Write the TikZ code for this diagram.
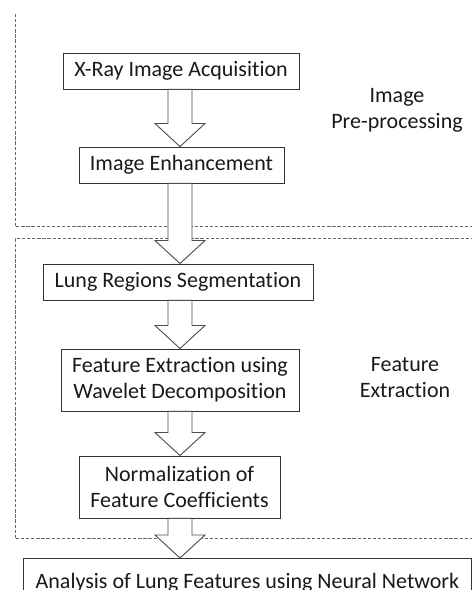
\documentclass[tikz,border=0pt]{standalone}
\usepackage{fontspec}
\setmainfont[Ligatures=NoCommon]{Carlito}
\usetikzlibrary{calc}
\tikzset{
  procbox/.style={draw=black!80, line width=0.9pt, fill=white, align=center, inner xsep=0pt, inner ysep=0pt,
    minimum height=36pt, font=\fontsize{22}{26}\selectfont, text=black!90},
  bigarrow/.style={draw=black!70, line width=0.9pt, fill=white, line join=miter},
  region/.style={draw=black!60, line width=1pt, dash pattern=on 3.3pt off 1.8pt},
  lbl/.style={align=center, font=\fontsize{22}{26}\selectfont, text=black!90}
}
\newcommand{\blockarrow}[2]{%
  \draw[bigarrow] let \p1=(#1.south), \p2=(#2.north) in
    (180pt,\y1) -- (180pt-12pt,\y1) -- (180pt-12pt,\y2+23pt) -- (180pt-25pt,\y2+23pt)
    -- (180pt,\y2) -- (180pt+25pt,\y2+23pt) -- (180pt+12pt,\y2+23pt) -- (180pt+12pt,\y1) -- cycle;}
\begin{document}
\begin{tikzpicture}[x=1pt,y=1pt]
\useasboundingbox (0,0) rectangle (472,590);
\clip (0,0) rectangle (472,590);
% regions
\coordinate (r1a) at (15,576);
\coordinate (r1b) at (15,363);
\coordinate (r1c) at (474,363);
\coordinate (r2a) at (474,351);
\coordinate (r2b) at (15,351);
\coordinate (r2c) at (15,51);
\coordinate (r2d) at (474,51);
\draw[region] (r1a) -- (r1b) -- (r1c);
\draw[region] (r2a) -- (r2b) -- (r2c) -- (r2d);
% boxes
\node[procbox, minimum width=236pt] (b1) at (181,519) {X-Ray Image Acquisition};
\node[procbox, minimum width=205pt] (b2) at (181.5,425) {Image Enhancement};
\node[procbox, minimum width=270pt] (b3) at (178,308) {Lung Regions Segmentation};
\node[procbox, minimum width=238pt, minimum height=62pt] (b4) at (180,210) {Feature Extraction using\\Wavelet Decomposition};
\node[procbox, minimum width=201pt, minimum height=62pt] (b5) at (179.5,103) {Normalization of\\Feature Coefficients};
\node[procbox, minimum width=448pt, minimum height=48pt, anchor=north west] (b6) at (23,32) {Analysis of Lung Features using Neural Network};
% arrows
\blockarrow{b1}{b2}
\blockarrow{b2}{b3}
\blockarrow{b3}{b4}
\blockarrow{b4}{b5}
\blockarrow{b5}{b6}
% labels
\node[lbl] (l1) at (397,480) {Image\\Pre-processing};
\node[lbl] (l2) at (405,212.5) {Feature\\Extraction};
\end{tikzpicture}
\end{document}
